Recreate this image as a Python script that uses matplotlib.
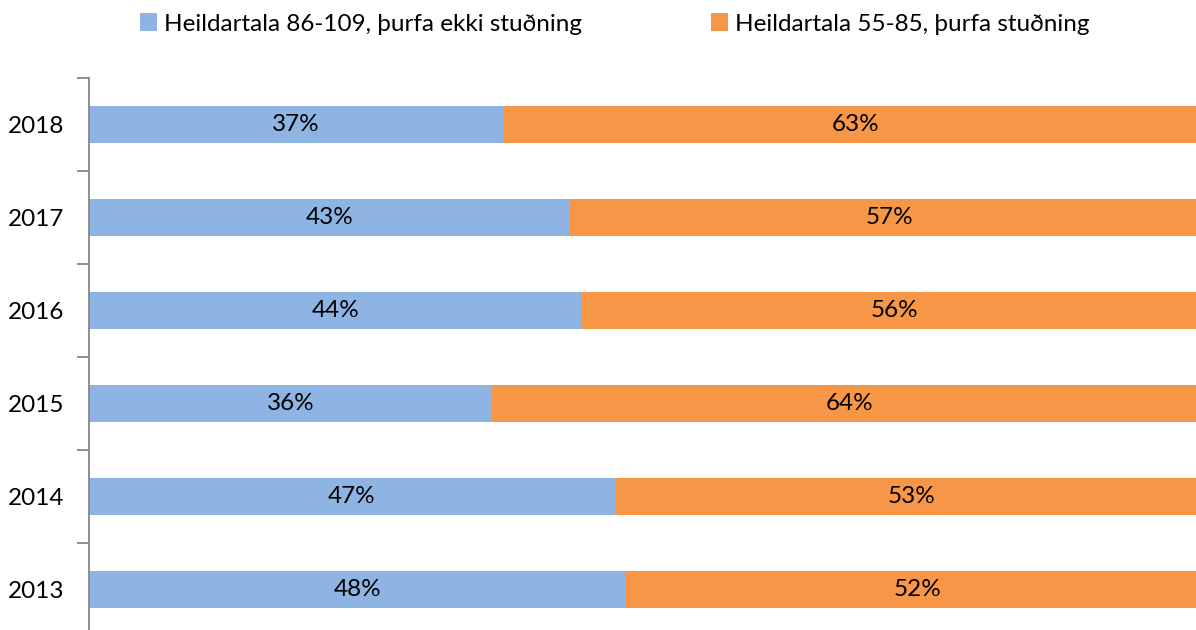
import matplotlib
matplotlib.use("Agg")
import matplotlib.pyplot as plt

years = ["2013", "2014", "2015", "2016", "2017", "2018"]
no_support = [48, 47, 36, 44, 43, 37]
support = [52, 53, 64, 56, 57, 63]
series_names = ["Heildartala 86-109, þurfa ekki stuðning", "Heildartala 55-85, þurfa stuðning"]
colors = ["#8EB4E3", "#F79646"]

plt.rcParams['font.family'] = ['Lato', 'DejaVu Sans']
FS = 17.5

fig = plt.figure(figsize=(11.96, 6.30), dpi=100)
ax = fig.add_axes([89/1196, -6/630, (1208 - 89)/1196, (636-78)/630])

y = list(range(len(years)))
ax.barh(y, no_support, height=0.4, color=colors[0], label=series_names[0])
ax.barh(y, support, left=no_support, height=0.4, color=colors[1], label=series_names[1])

for i in y:
    ax.text(no_support[i]/2, i, f"{no_support[i]}%", ha='center', va='center', fontsize=FS, color='black')
    ax.text(no_support[i] + support[i]/2, i, f"{support[i]}%", ha='center', va='center', fontsize=FS, color='black')

ax.set_xlim(0, 100)
ax.set_ylim(-0.5, len(years)-0.5)
ax.set_yticks(y)
ax.set_yticklabels(years, fontsize=FS)
ax.set_yticks([i - 0.5 for i in range(len(years)+1)], minor=True)
ax.tick_params(axis='y', which='major', length=0, pad=18)
ax.tick_params(axis='y', which='minor', length=9, width=1.3, color='#868686')
ax.set_xticks([])
for s in ['top', 'right', 'bottom']:
    ax.spines[s].set_visible(False)
ax.spines['left'].set_color('#868686')
ax.spines['left'].set_linewidth(1.3)

leg = fig.legend(loc='center', bbox_to_anchor=(615/1196, 1 - 24/630), ncol=2, frameon=False,
                 fontsize=FS, handlelength=0.7, handleheight=0.7, handletextpad=0.3,
                 columnspacing=5.3)

fig.savefig("out.png", dpi=100)
